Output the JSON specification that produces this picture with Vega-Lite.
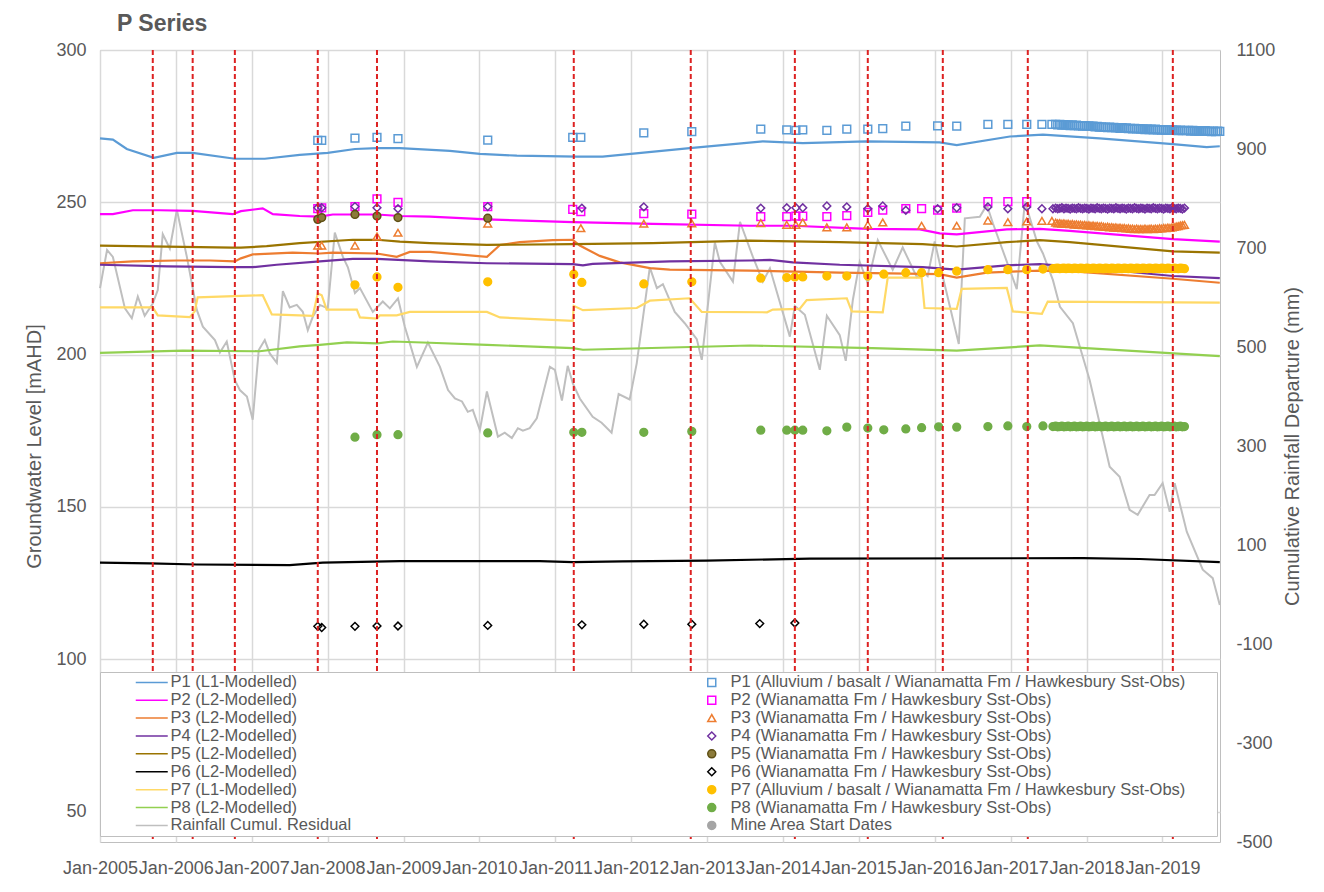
{
  "$schema": "https://vega.github.io/schema/vega-lite/v6.json",
  "width": 1120,
  "height": 792,
  "autosize": {"type": "none"},
  "padding": {"left": 100, "top": 50, "right": 104, "bottom": 50},
  "background": "white",
  "title": {"text": "P Series", "anchor": "start", "frame": "group", "fontSize": 23, "fontWeight": "bold", "color": "#595959", "dx": 17, "offset": 5, "font": "Liberation Sans"},
  "config": {
    "font": "Liberation Sans",
    "view": {"stroke": "#bfbfbf", "strokeWidth": 1},
    "axis": {"labelColor": "#595959", "titleColor": "#595959", "labelFontSize": 18, "titleFontSize": 20, "titleFontWeight": "normal", "ticks": false, "domain": false, "gridColor": "#d9d9d9", "gridWidth": 1.5, "labelFont": "Liberation Sans", "titleFont": "Liberation Sans"}
  },
  "datasets": {
    "model": [
      {"s":"M1","d":"2005-01-01","v":271.0},{"s":"M1","d":"2005-03-04","v":270.6},{"s":"M1","d":"2005-05-10","v":267.5},{"s":"M1","d":"2005-09-17","v":264.6},{"s":"M1","d":"2006-01-06","v":266.2},{"s":"M1","d":"2006-03-23","v":266.2},{"s":"M1","d":"2006-10-12","v":264.3},{"s":"M1","d":"2007-03-05","v":264.3},{"s":"M1","d":"2007-08-20","v":265.6},{"s":"M1","d":"2008-01-02","v":266.2},{"s":"M1","d":"2008-05-12","v":267.5},{"s":"M1","d":"2008-08-26","v":267.8},{"s":"M1","d":"2008-12-14","v":267.8},{"s":"M1","d":"2009-08-12","v":266.9},{"s":"M1","d":"2010-01-03","v":265.9},{"s":"M1","d":"2010-06-30","v":265.3},{"s":"M1","d":"2011-04-15","v":265.0},{"s":"M1","d":"2011-08-17","v":265.0},{"s":"M1","d":"2012-10-09","v":267.8},{"s":"M1","d":"2013-09-26","v":270.0},{"s":"M1","d":"2014-04-06","v":269.4},{"s":"M1","d":"2015-02-08","v":270.0},{"s":"M1","d":"2016-01-25","v":269.7},{"s":"M1","d":"2016-04-16","v":268.8},{"s":"M1","d":"2016-12-28","v":271.6},{"s":"M1","d":"2017-06-05","v":272.2},{"s":"M1","d":"2018-03-05","v":271.0},{"s":"M1","d":"2019-02-20","v":269.1},{"s":"M1","d":"2019-08-02","v":268.1},{"s":"M1","d":"2019-10-04","v":268.4},
      {"s":"M2","d":"2005-01-01","v":246.1},{"s":"M2","d":"2005-03-04","v":246.1},{"s":"M2","d":"2005-06-08","v":247.4},{"s":"M2","d":"2005-10-16","v":247.4},{"s":"M2","d":"2006-03-23","v":247.2},{"s":"M2","d":"2006-10-02","v":246.1},{"s":"M2","d":"2006-11-10","v":247.1},{"s":"M2","d":"2007-02-23","v":248.0},{"s":"M2","d":"2007-04-13","v":246.1},{"s":"M2","d":"2007-08-20","v":245.5},{"s":"M2","d":"2007-11-25","v":245.3},{"s":"M2","d":"2008-01-26","v":246.0},{"s":"M2","d":"2008-08-26","v":246.0},{"s":"M2","d":"2008-12-14","v":245.5},{"s":"M2","d":"2009-05-08","v":245.3},{"s":"M2","d":"2010-02-06","v":244.4},{"s":"M2","d":"2011-03-26","v":243.5},{"s":"M2","d":"2012-04-14","v":242.9},{"s":"M2","d":"2013-07-25","v":242.3},{"s":"M2","d":"2014-02-17","v":242.3},{"s":"M2","d":"2015-02-13","v":241.3},{"s":"M2","d":"2015-10-21","v":241.1},{"s":"M2","d":"2016-01-25","v":239.8},{"s":"M2","d":"2016-04-16","v":239.5},{"s":"M2","d":"2016-12-13","v":241.1},{"s":"M2","d":"2017-05-21","v":241.3},{"s":"M2","d":"2017-10-12","v":240.6},{"s":"M2","d":"2019-02-20","v":237.9},{"s":"M2","d":"2019-10-04","v":237.1},
      {"s":"M3","d":"2005-01-01","v":230.0},{"s":"M3","d":"2005-06-08","v":230.6},{"s":"M3","d":"2006-01-06","v":230.9},{"s":"M3","d":"2006-06-14","v":230.9},{"s":"M3","d":"2006-10-12","v":230.6},{"s":"M3","d":"2006-11-10","v":231.6},{"s":"M3","d":"2007-01-06","v":232.9},{"s":"M3","d":"2007-07-17","v":233.5},{"s":"M3","d":"2007-11-25","v":233.2},{"s":"M3","d":"2008-01-26","v":233.5},{"s":"M3","d":"2008-08-26","v":233.2},{"s":"M3","d":"2008-11-29","v":232.1},{"s":"M3","d":"2009-01-31","v":233.7},{"s":"M3","d":"2009-05-08","v":233.7},{"s":"M3","d":"2010-02-06","v":232.1},{"s":"M3","d":"2010-04-10","v":236.0},{"s":"M3","d":"2010-07-14","v":236.9},{"s":"M3","d":"2010-12-20","v":237.6},{"s":"M3","d":"2011-03-26","v":237.7},{"s":"M3","d":"2011-04-29","v":235.8},{"s":"M3","d":"2011-08-03","v":232.4},{"s":"M3","d":"2011-11-07","v":230.3},{"s":"M3","d":"2012-03-31","v":228.4},{"s":"M3","d":"2012-07-05","v":227.9},{"s":"M3","d":"2013-07-25","v":227.6},{"s":"M3","d":"2014-10-01","v":226.9},{"s":"M3","d":"2016-01-25","v":226.4},{"s":"M3","d":"2016-04-16","v":225.3},{"s":"M3","d":"2016-09-08","v":226.9},{"s":"M3","d":"2017-05-21","v":227.6},{"s":"M3","d":"2017-10-12","v":227.4},{"s":"M3","d":"2019-02-20","v":224.9},{"s":"M3","d":"2019-10-04","v":223.6},
      {"s":"M4","d":"2005-01-01","v":229.5},{"s":"M4","d":"2005-11-19","v":229.0},{"s":"M4","d":"2006-10-02","v":228.7},{"s":"M4","d":"2007-01-06","v":228.7},{"s":"M4","d":"2007-05-01","v":229.5},{"s":"M4","d":"2007-11-25","v":230.6},{"s":"M4","d":"2008-05-02","v":231.4},{"s":"M4","d":"2008-08-26","v":231.4},{"s":"M4","d":"2009-05-08","v":230.6},{"s":"M4","d":"2010-02-06","v":230.0},{"s":"M4","d":"2011-03-26","v":229.7},{"s":"M4","d":"2011-05-14","v":229.3},{"s":"M4","d":"2011-06-30","v":229.8},{"s":"M4","d":"2012-07-05","v":230.6},{"s":"M4","d":"2013-07-25","v":230.9},{"s":"M4","d":"2013-10-30","v":231.1},{"s":"M4","d":"2014-02-17","v":230.3},{"s":"M4","d":"2014-10-01","v":229.5},{"s":"M4","d":"2015-11-04","v":228.7},{"s":"M4","d":"2016-04-16","v":227.9},{"s":"M4","d":"2016-12-13","v":229.3},{"s":"M4","d":"2017-05-21","v":229.7},{"s":"M4","d":"2017-10-12","v":229.0},{"s":"M4","d":"2019-02-20","v":225.8},{"s":"M4","d":"2019-10-04","v":225.1},
      {"s":"M5","d":"2005-01-01","v":235.8},{"s":"M5","d":"2006-10-02","v":235.1},{"s":"M5","d":"2006-11-10","v":235.1},{"s":"M5","d":"2007-03-14","v":235.6},{"s":"M5","d":"2007-08-20","v":236.6},{"s":"M5","d":"2008-05-02","v":237.7},{"s":"M5","d":"2008-08-26","v":237.7},{"s":"M5","d":"2008-12-14","v":237.1},{"s":"M5","d":"2009-05-08","v":236.6},{"s":"M5","d":"2010-02-06","v":236.0},{"s":"M5","d":"2011-03-26","v":236.3},{"s":"M5","d":"2012-04-14","v":236.6},{"s":"M5","d":"2013-07-25","v":237.4},{"s":"M5","d":"2014-10-01","v":236.9},{"s":"M5","d":"2015-11-04","v":236.3},{"s":"M5","d":"2016-04-16","v":235.5},{"s":"M5","d":"2016-12-13","v":236.9},{"s":"M5","d":"2017-05-21","v":237.6},{"s":"M5","d":"2017-10-12","v":236.9},{"s":"M5","d":"2019-02-20","v":233.9},{"s":"M5","d":"2019-10-04","v":233.5},
      {"s":"M6","d":"2005-01-01","v":131.7},{"s":"M6","d":"2005-08-28","v":131.5},{"s":"M6","d":"2006-04-12","v":131.1},{"s":"M6","d":"2007-07-03","v":130.9},{"s":"M6","d":"2007-12-09","v":131.7},{"s":"M6","d":"2008-12-14","v":132.2},{"s":"M6","d":"2010-10-18","v":132.2},{"s":"M6","d":"2011-03-26","v":131.9},{"s":"M6","d":"2011-11-21","v":132.1},{"s":"M6","d":"2012-12-30","v":132.4},{"s":"M6","d":"2014-05-10","v":133.0},{"s":"M6","d":"2017-12-14","v":133.2},{"s":"M6","d":"2018-09-14","v":132.9},{"s":"M6","d":"2019-10-04","v":131.9},
      {"s":"M7","d":"2005-01-01","v":215.5},{"s":"M7","d":"2005-09-12","v":215.5},{"s":"M7","d":"2005-10-06","v":212.9},{"s":"M7","d":"2006-03-09","v":212.3},{"s":"M7","d":"2006-04-02","v":214.2},{"s":"M7","d":"2006-04-16","v":218.8},{"s":"M7","d":"2007-02-23","v":219.5},{"s":"M7","d":"2007-04-08","v":213.2},{"s":"M7","d":"2007-10-22","v":212.7},{"s":"M7","d":"2007-11-15","v":220.1},{"s":"M7","d":"2007-12-04","v":219.5},{"s":"M7","d":"2007-12-28","v":214.8},{"s":"M7","d":"2008-05-21","v":214.8},{"s":"M7","d":"2008-06-05","v":212.2},{"s":"M7","d":"2008-08-26","v":211.8},{"s":"M7","d":"2008-09-09","v":212.9},{"s":"M7","d":"2008-11-29","v":212.9},{"s":"M7","d":"2009-01-31","v":214.0},{"s":"M7","d":"2010-02-06","v":214.0},{"s":"M7","d":"2010-04-10","v":212.2},{"s":"M7","d":"2011-03-26","v":211.1},{"s":"M7","d":"2011-03-31","v":216.0},{"s":"M7","d":"2011-05-14","v":214.6},{"s":"M7","d":"2012-01-28","v":215.3},{"s":"M7","d":"2012-03-31","v":217.7},{"s":"M7","d":"2012-10-09","v":218.5},{"s":"M7","d":"2012-12-06","v":214.0},{"s":"M7","d":"2013-10-16","v":213.9},{"s":"M7","d":"2013-11-13","v":214.8},{"s":"M7","d":"2014-03-22","v":215.0},{"s":"M7","d":"2014-04-25","v":217.9},{"s":"M7","d":"2014-11-04","v":218.5},{"s":"M7","d":"2014-11-28","v":214.2},{"s":"M7","d":"2015-04-26","v":213.9},{"s":"M7","d":"2015-05-20","v":225.3},{"s":"M7","d":"2015-10-30","v":225.3},{"s":"M7","d":"2015-11-13","v":215.3},{"s":"M7","d":"2016-04-16","v":215.0},{"s":"M7","d":"2016-05-10","v":221.6},{"s":"M7","d":"2016-12-13","v":221.9},{"s":"M7","d":"2017-01-11","v":214.2},{"s":"M7","d":"2017-05-31","v":213.4},{"s":"M7","d":"2017-06-28","v":217.4},{"s":"M7","d":"2019-10-04","v":217.1},
      {"s":"M8","d":"2005-01-01","v":200.6},{"s":"M8","d":"2006-02-04","v":201.3},{"s":"M8","d":"2007-02-09","v":201.1},{"s":"M8","d":"2007-08-20","v":202.7},{"s":"M8","d":"2007-11-25","v":203.2},{"s":"M8","d":"2008-04-03","v":204.0},{"s":"M8","d":"2008-08-26","v":203.7},{"s":"M8","d":"2008-11-10","v":204.3},{"s":"M8","d":"2009-05-08","v":203.9},{"s":"M8","d":"2010-02-06","v":203.2},{"s":"M8","d":"2011-03-26","v":202.1},{"s":"M8","d":"2011-05-14","v":201.6},{"s":"M8","d":"2013-07-25","v":203.0},{"s":"M8","d":"2015-03-08","v":202.1},{"s":"M8","d":"2016-04-16","v":201.3},{"s":"M8","d":"2017-05-21","v":203.0},{"s":"M8","d":"2019-10-04","v":199.5}
    ],
    "rain": [
      {"s":"R","d":"2005-01-01","v":619},{"s":"R","d":"2005-02-04","v":696},{"s":"R","d":"2005-03-04","v":682},{"s":"R","d":"2005-05-01","v":578},{"s":"R","d":"2005-06-03","v":558},{"s":"R","d":"2005-07-02","v":602},{"s":"R","d":"2005-08-04","v":563},{"s":"R","d":"2005-09-12","v":588},{"s":"R","d":"2005-10-06","v":615},{"s":"R","d":"2005-10-30","v":728},{"s":"R","d":"2005-12-03","v":699},{"s":"R","d":"2006-01-06","v":777},{"s":"R","d":"2006-02-23","v":682},{"s":"R","d":"2006-04-12","v":575},{"s":"R","d":"2006-05-11","v":541},{"s":"R","d":"2006-07-08","v":514},{"s":"R","d":"2006-08-01","v":489},{"s":"R","d":"2006-09-03","v":511},{"s":"R","d":"2006-10-12","v":433},{"s":"R","d":"2006-11-05","v":413},{"s":"R","d":"2006-12-09","v":400},{"s":"R","d":"2007-01-06","v":353},{"s":"R","d":"2007-02-04","v":494},{"s":"R","d":"2007-03-05","v":514},{"s":"R","d":"2007-03-29","v":487},{"s":"R","d":"2007-05-02","v":468},{"s":"R","d":"2007-05-31","v":613},{"s":"R","d":"2007-07-03","v":580},{"s":"R","d":"2007-08-06","v":585},{"s":"R","d":"2007-09-04","v":571},{"s":"R","d":"2007-09-28","v":534},{"s":"R","d":"2007-10-22","v":561},{"s":"R","d":"2007-11-25","v":585},{"s":"R","d":"2008-01-02","v":578},{"s":"R","d":"2008-02-05","v":731},{"s":"R","d":"2008-03-15","v":682},{"s":"R","d":"2008-04-08","v":661},{"s":"R","d":"2008-05-12","v":609},{"s":"R","d":"2008-06-05","v":619},{"s":"R","d":"2008-08-06","v":571},{"s":"R","d":"2008-09-23","v":592},{"s":"R","d":"2008-10-27","v":578},{"s":"R","d":"2008-12-05","v":598},{"s":"R","d":"2009-01-07","v":541},{"s":"R","d":"2009-03-06","v":460},{"s":"R","d":"2009-04-28","v":509},{"s":"R","d":"2009-06-25","v":460},{"s":"R","d":"2009-08-03","v":413},{"s":"R","d":"2009-09-05","v":396},{"s":"R","d":"2009-10-09","v":390},{"s":"R","d":"2009-11-06","v":369},{"s":"R","d":"2009-11-30","v":373},{"s":"R","d":"2010-01-03","v":332},{"s":"R","d":"2010-02-06","v":410},{"s":"R","d":"2010-03-31","v":319},{"s":"R","d":"2010-05-03","v":327},{"s":"R","d":"2010-06-06","v":316},{"s":"R","d":"2010-07-05","v":336},{"s":"R","d":"2010-07-29","v":331},{"s":"R","d":"2010-08-31","v":336},{"s":"R","d":"2010-10-04","v":356},{"s":"R","d":"2010-12-06","v":460},{"s":"R","d":"2010-12-30","v":454},{"s":"R","d":"2011-02-02","v":392},{"s":"R","d":"2011-03-02","v":462},{"s":"R","d":"2011-03-26","v":427},{"s":"R","d":"2011-04-29","v":396},{"s":"R","d":"2011-06-30","v":359},{"s":"R","d":"2011-08-12","v":347},{"s":"R","d":"2011-09-29","v":327},{"s":"R","d":"2011-11-02","v":405},{"s":"R","d":"2011-12-25","v":394},{"s":"R","d":"2012-01-28","v":467},{"s":"R","d":"2012-03-31","v":661},{"s":"R","d":"2012-05-04","v":619},{"s":"R","d":"2012-06-02","v":627},{"s":"R","d":"2012-07-29","v":571},{"s":"R","d":"2012-09-15","v":548},{"s":"R","d":"2012-11-12","v":516},{"s":"R","d":"2012-12-06","v":474},{"s":"R","d":"2013-02-07","v":711},{"s":"R","d":"2013-03-03","v":672},{"s":"R","d":"2013-05-05","v":632},{"s":"R","d":"2013-06-08","v":753},{"s":"R","d":"2013-08-09","v":682},{"s":"R","d":"2013-09-26","v":632},{"s":"R","d":"2013-10-30","v":659},{"s":"R","d":"2014-02-03","v":521},{"s":"R","d":"2014-02-27","v":583},{"s":"R","d":"2014-04-16","v":565},{"s":"R","d":"2014-06-27","v":454},{"s":"R","d":"2014-07-31","v":563},{"s":"R","d":"2014-10-01","v":524},{"s":"R","d":"2014-10-30","v":472},{"s":"R","d":"2014-12-03","v":595},{"s":"R","d":"2015-01-05","v":672},{"s":"R","d":"2015-02-13","v":629},{"s":"R","d":"2015-04-02","v":716},{"s":"R","d":"2015-06-13","v":656},{"s":"R","d":"2015-07-31","v":701},{"s":"R","d":"2015-10-07","v":641},{"s":"R","d":"2015-11-04","v":652},{"s":"R","d":"2015-11-28","v":643},{"s":"R","d":"2016-01-01","v":713},{"s":"R","d":"2016-02-09","v":642},{"s":"R","d":"2016-04-26","v":506},{"s":"R","d":"2016-05-25","v":760},{"s":"R","d":"2016-08-05","v":763},{"s":"R","d":"2016-09-08","v":787},{"s":"R","d":"2016-10-07","v":750},{"s":"R","d":"2017-01-30","v":617},{"s":"R","d":"2017-03-10","v":794},{"s":"R","d":"2017-05-07","v":713},{"s":"R","d":"2017-06-05","v":689},{"s":"R","d":"2017-07-23","v":635},{"s":"R","d":"2017-08-26","v":581},{"s":"R","d":"2017-10-27","v":548},{"s":"R","d":"2018-01-16","v":433},{"s":"R","d":"2018-04-22","v":258},{"s":"R","d":"2018-06-09","v":238},{"s":"R","d":"2018-07-27","v":171},{"s":"R","d":"2018-09-04","v":161},{"s":"R","d":"2018-10-31","v":201},{"s":"R","d":"2018-11-24","v":201},{"s":"R","d":"2019-01-02","v":225},{"s":"R","d":"2019-02-05","v":167},{"s":"R","d":"2019-03-01","v":225},{"s":"R","d":"2019-04-28","v":127},{"s":"R","d":"2019-07-14","v":50},{"s":"R","d":"2019-08-31","v":33},{"s":"R","d":"2019-10-04","v":-21}
    ],
    "obs": [
      {"s":"O1","d":"2007-11-15","v":270.3},{"s":"O1","d":"2007-12-04","v":270.3},{"s":"O1","d":"2008-05-12","v":271.1},{"s":"O1","d":"2008-08-26","v":271.3},{"s":"O1","d":"2008-12-05","v":270.9},{"s":"O1","d":"2010-02-10","v":270.4},{"s":"O1","d":"2011-03-26","v":271.3},{"s":"O1","d":"2011-05-04","v":271.3},{"s":"O1","d":"2012-03-02","v":272.8},{"s":"O1","d":"2012-10-19","v":273.2},{"s":"O1","d":"2013-09-16","v":274.0},{"s":"O1","d":"2014-01-19","v":273.8},{"s":"O1","d":"2014-03-04","v":273.6},{"s":"O1","d":"2014-04-06","v":273.8},{"s":"O1","d":"2014-07-31","v":273.6},{"s":"O1","d":"2014-11-04","v":274.0},{"s":"O1","d":"2015-02-13","v":274.0},{"s":"O1","d":"2015-04-26","v":274.2},{"s":"O1","d":"2015-08-15","v":275.0},{"s":"O1","d":"2016-01-15","v":275.1},{"s":"O1","d":"2016-04-16","v":275.0},{"s":"O1","d":"2016-09-13","v":275.6},{"s":"O1","d":"2016-12-18","v":275.6},{"s":"O1","d":"2017-03-19","v":275.6},{"s":"O1","d":"2017-05-31","v":275.6},{"s":"O1","d":"2017-07-18","v":275.6},
      {"s":"O2","d":"2007-11-15","v":247.9},{"s":"O2","d":"2007-12-04","v":248.2},{"s":"O2","d":"2008-05-12","v":248.6},{"s":"O2","d":"2008-08-26","v":251.1},{"s":"O2","d":"2008-12-05","v":250.0},{"s":"O2","d":"2010-02-10","v":248.6},{"s":"O2","d":"2011-03-26","v":247.7},{"s":"O2","d":"2011-05-04","v":246.9},{"s":"O2","d":"2012-03-02","v":246.3},{"s":"O2","d":"2012-10-19","v":246.1},{"s":"O2","d":"2013-09-16","v":245.3},{"s":"O2","d":"2014-01-19","v":245.3},{"s":"O2","d":"2014-03-04","v":245.5},{"s":"O2","d":"2014-04-06","v":245.5},{"s":"O2","d":"2014-07-31","v":245.3},{"s":"O2","d":"2014-11-04","v":245.6},{"s":"O2","d":"2015-02-13","v":246.7},{"s":"O2","d":"2015-04-26","v":247.4},{"s":"O2","d":"2015-08-15","v":247.9},{"s":"O2","d":"2015-10-30","v":247.9},{"s":"O2","d":"2016-01-15","v":247.4},{"s":"O2","d":"2016-04-16","v":248.1},{"s":"O2","d":"2016-09-13","v":250.2},{"s":"O2","d":"2016-12-18","v":250.2},{"s":"O2","d":"2017-03-19","v":250.2},
      {"s":"O3","d":"2007-11-15","v":235.8},{"s":"O3","d":"2007-12-04","v":235.8},{"s":"O3","d":"2008-05-12","v":235.8},{"s":"O3","d":"2008-08-26","v":238.8},{"s":"O3","d":"2008-12-05","v":240.0},{"s":"O3","d":"2010-02-10","v":243.0},{"s":"O3","d":"2011-05-04","v":241.5},{"s":"O3","d":"2012-03-02","v":243.0},{"s":"O3","d":"2012-10-19","v":243.1},{"s":"O3","d":"2013-09-16","v":243.2},{"s":"O3","d":"2014-01-19","v":242.6},{"s":"O3","d":"2014-03-04","v":242.6},{"s":"O3","d":"2014-04-06","v":243.4},{"s":"O3","d":"2014-07-31","v":241.8},{"s":"O3","d":"2014-11-04","v":241.8},{"s":"O3","d":"2015-02-13","v":242.6},{"s":"O3","d":"2015-04-26","v":243.4},{"s":"O3","d":"2015-10-30","v":242.3},{"s":"O3","d":"2016-04-16","v":242.3},{"s":"O3","d":"2016-09-13","v":244.0},{"s":"O3","d":"2016-12-18","v":243.5},{"s":"O3","d":"2017-03-19","v":243.7},{"s":"O3","d":"2017-05-31","v":243.9},{"s":"O3","d":"2017-07-18","v":243.9},
      {"s":"O4","d":"2007-11-15","v":248.2},{"s":"O4","d":"2007-12-04","v":248.2},{"s":"O4","d":"2008-05-12","v":248.6},{"s":"O4","d":"2008-08-26","v":248.2},{"s":"O4","d":"2008-12-05","v":247.9},{"s":"O4","d":"2010-02-10","v":248.6},{"s":"O4","d":"2011-05-09","v":248.1},{"s":"O4","d":"2012-03-02","v":248.5},{"s":"O4","d":"2013-09-16","v":248.1},{"s":"O4","d":"2014-01-19","v":248.2},{"s":"O4","d":"2014-03-04","v":248.2},{"s":"O4","d":"2014-04-06","v":248.2},{"s":"O4","d":"2014-07-31","v":248.8},{"s":"O4","d":"2014-11-04","v":248.5},{"s":"O4","d":"2015-02-13","v":247.9},{"s":"O4","d":"2015-04-26","v":248.8},{"s":"O4","d":"2015-08-15","v":247.4},{"s":"O4","d":"2016-01-15","v":247.9},{"s":"O4","d":"2016-04-16","v":248.2},{"s":"O4","d":"2016-09-13","v":248.5},{"s":"O4","d":"2016-12-18","v":247.9},{"s":"O4","d":"2017-03-19","v":248.5},{"s":"O4","d":"2017-05-31","v":247.9},{"s":"O4","d":"2017-07-23","v":247.9},
      {"s":"O5","d":"2007-11-15","v":244.4},{"s":"O5","d":"2007-12-04","v":245.0},{"s":"O5","d":"2008-05-12","v":246.0},{"s":"O5","d":"2008-08-26","v":245.5},{"s":"O5","d":"2008-12-05","v":245.0},{"s":"O5","d":"2010-02-10","v":244.8},
      {"s":"O6","d":"2007-11-15","v":110.8},{"s":"O6","d":"2007-12-04","v":110.4},{"s":"O6","d":"2008-05-12","v":110.8},{"s":"O6","d":"2008-08-26","v":110.9},{"s":"O6","d":"2008-12-05","v":110.9},{"s":"O6","d":"2010-02-10","v":111.1},{"s":"O6","d":"2011-05-09","v":111.3},{"s":"O6","d":"2012-03-02","v":111.5},{"s":"O6","d":"2012-10-19","v":111.5},{"s":"O6","d":"2013-09-11","v":111.7},{"s":"O6","d":"2014-02-27","v":111.9},
      {"s":"O7","d":"2008-05-12","v":222.9},{"s":"O7","d":"2008-08-26","v":225.5},{"s":"O7","d":"2008-12-05","v":222.1},{"s":"O7","d":"2010-02-10","v":223.9},{"s":"O7","d":"2011-03-31","v":226.4},{"s":"O7","d":"2011-05-09","v":223.7},{"s":"O7","d":"2012-03-02","v":223.2},{"s":"O7","d":"2012-10-19","v":223.9},{"s":"O7","d":"2013-09-16","v":225.1},{"s":"O7","d":"2014-01-19","v":225.3},{"s":"O7","d":"2014-02-27","v":225.5},{"s":"O7","d":"2014-04-06","v":225.5},{"s":"O7","d":"2014-07-31","v":225.8},{"s":"O7","d":"2014-11-04","v":225.8},{"s":"O7","d":"2015-02-13","v":225.8},{"s":"O7","d":"2015-05-01","v":226.4},{"s":"O7","d":"2015-08-15","v":226.9},{"s":"O7","d":"2015-10-30","v":226.9},{"s":"O7","d":"2016-01-20","v":226.9},{"s":"O7","d":"2016-04-16","v":227.4},{"s":"O7","d":"2016-09-13","v":227.9},{"s":"O7","d":"2016-12-18","v":227.9},{"s":"O7","d":"2017-03-19","v":227.9},{"s":"O7","d":"2017-06-05","v":228.1},{"s":"O7","d":"2017-07-23","v":228.2},
      {"s":"O8","d":"2008-05-12","v":172.9},{"s":"O8","d":"2008-08-26","v":173.7},{"s":"O8","d":"2008-12-05","v":173.7},{"s":"O8","d":"2010-02-10","v":174.3},{"s":"O8","d":"2011-03-31","v":174.5},{"s":"O8","d":"2011-05-09","v":174.5},{"s":"O8","d":"2012-03-02","v":174.5},{"s":"O8","d":"2012-10-19","v":174.8},{"s":"O8","d":"2013-09-16","v":175.2},{"s":"O8","d":"2014-01-19","v":175.2},{"s":"O8","d":"2014-02-27","v":175.2},{"s":"O8","d":"2014-04-06","v":175.2},{"s":"O8","d":"2014-07-31","v":175.0},{"s":"O8","d":"2014-11-04","v":176.2},{"s":"O8","d":"2015-02-13","v":175.9},{"s":"O8","d":"2015-05-01","v":175.3},{"s":"O8","d":"2015-08-15","v":175.6},{"s":"O8","d":"2015-10-30","v":176.0},{"s":"O8","d":"2016-01-20","v":176.3},{"s":"O8","d":"2016-04-16","v":176.2},{"s":"O8","d":"2016-09-13","v":176.4},{"s":"O8","d":"2016-12-18","v":176.6},{"s":"O8","d":"2017-03-19","v":176.4},{"s":"O8","d":"2017-06-05","v":176.6},{"s":"O8","d":"2017-07-23","v":176.4}
    ],
    "band": [
      {"d":"2017-08-05","O1":275.6,"O3":243.3,"O4":248.1,"O7":228.3,"O8":176.5},
      {"d":"2017-08-15","O1":275.4,"O3":243.1,"O4":247.9,"O7":228.4,"O8":176.3},
      {"d":"2017-08-25","O1":275.6,"O3":243.2,"O4":248.0,"O7":228.2,"O8":176.4},
      {"d":"2017-09-04","O1":275.3,"O3":243.0,"O4":248.2,"O7":228.3,"O8":176.5},
      {"d":"2017-09-14","O1":275.5,"O3":243.1,"O4":247.9,"O7":228.4,"O8":176.3},
      {"d":"2017-09-24","O1":275.3,"O3":242.9,"O4":248.1,"O7":228.2,"O8":176.4},
      {"d":"2017-10-04","O1":275.4,"O3":243.0,"O4":248.0,"O7":228.4,"O8":176.5},
      {"d":"2017-10-14","O1":275.2,"O3":242.8,"O4":247.8,"O7":228.3,"O8":176.3},
      {"d":"2017-10-24","O1":275.4,"O3":242.9,"O4":248.1,"O7":228.2,"O8":176.4},
      {"d":"2017-11-03","O1":275.2,"O3":242.7,"O4":248.0,"O7":228.4,"O8":176.5},
      {"d":"2017-11-13","O1":275.3,"O3":242.8,"O4":247.9,"O7":228.3,"O8":176.3},
      {"d":"2017-11-23","O1":275.1,"O3":242.6,"O4":248.2,"O7":228.2,"O8":176.4},
      {"d":"2017-12-03","O1":275.2,"O3":242.7,"O4":248.0,"O7":228.4,"O8":176.5},
      {"d":"2017-12-13","O1":275.0,"O3":242.5,"O4":247.9,"O7":228.3,"O8":176.3},
      {"d":"2017-12-23","O1":275.2,"O3":242.6,"O4":248.1,"O7":228.2,"O8":176.4},
      {"d":"2018-01-02","O1":275.0,"O3":242.4,"O4":248.0,"O7":228.4,"O8":176.5},
      {"d":"2018-01-12","O1":275.1,"O3":242.5,"O4":247.8,"O7":228.3,"O8":176.3},
      {"d":"2018-01-22","O1":274.9,"O3":242.3,"O4":248.1,"O7":228.2,"O8":176.4},
      {"d":"2018-02-01","O1":275.0,"O3":242.4,"O4":248.0,"O7":228.4,"O8":176.5},
      {"d":"2018-02-11","O1":274.8,"O3":242.2,"O4":247.9,"O7":228.3,"O8":176.3},
      {"d":"2018-02-21","O1":274.9,"O3":242.3,"O4":248.2,"O7":228.2,"O8":176.4},
      {"d":"2018-03-03","O1":274.7,"O3":242.1,"O4":248.0,"O7":228.4,"O8":176.5},
      {"d":"2018-03-13","O1":274.8,"O3":242.2,"O4":247.9,"O7":228.3,"O8":176.3},
      {"d":"2018-03-23","O1":274.6,"O3":242.0,"O4":248.1,"O7":228.2,"O8":176.4},
      {"d":"2018-04-02","O1":274.7,"O3":241.9,"O4":248.0,"O7":228.4,"O8":176.5},
      {"d":"2018-04-12","O1":274.5,"O3":242.0,"O4":247.8,"O7":228.3,"O8":176.3},
      {"d":"2018-04-22","O1":274.7,"O3":241.8,"O4":248.1,"O7":228.2,"O8":176.4},
      {"d":"2018-05-02","O1":274.5,"O3":241.9,"O4":248.0,"O7":228.4,"O8":176.5},
      {"d":"2018-05-12","O1":274.6,"O3":241.7,"O4":247.9,"O7":228.3,"O8":176.3},
      {"d":"2018-05-22","O1":274.4,"O3":241.8,"O4":248.2,"O7":228.2,"O8":176.4},
      {"d":"2018-06-01","O1":274.5,"O3":241.6,"O4":248.0,"O7":228.4,"O8":176.5},
      {"d":"2018-06-11","O1":274.3,"O3":241.7,"O4":247.9,"O7":228.3,"O8":176.3},
      {"d":"2018-06-21","O1":274.5,"O3":241.5,"O4":248.1,"O7":228.2,"O8":176.4},
      {"d":"2018-07-01","O1":274.3,"O3":241.6,"O4":248.0,"O7":228.4,"O8":176.5},
      {"d":"2018-07-11","O1":274.4,"O3":241.4,"O4":247.8,"O7":228.3,"O8":176.3},
      {"d":"2018-07-21","O1":274.2,"O3":241.5,"O4":248.1,"O7":228.2,"O8":176.4},
      {"d":"2018-07-31","O1":274.3,"O3":241.3,"O4":248.0,"O7":228.4,"O8":176.5},
      {"d":"2018-08-10","O1":274.1,"O3":241.4,"O4":247.9,"O7":228.3,"O8":176.3},
      {"d":"2018-08-20","O1":274.3,"O3":241.2,"O4":248.2,"O7":228.2,"O8":176.4},
      {"d":"2018-08-30","O1":274.1,"O3":241.4,"O4":248.0,"O7":228.4,"O8":176.5},
      {"d":"2018-09-09","O1":274.2,"O3":241.2,"O4":247.9,"O7":228.3,"O8":176.3},
      {"d":"2018-09-19","O1":274.0,"O3":241.3,"O4":248.1,"O7":228.2,"O8":176.4},
      {"d":"2018-09-29","O1":274.1,"O3":241.2,"O4":248.0,"O7":228.4,"O8":176.5},
      {"d":"2018-10-09","O1":273.9,"O3":241.4,"O4":247.8,"O7":228.3,"O8":176.3},
      {"d":"2018-10-19","O1":274.1,"O3":241.2,"O4":248.1,"O7":228.2,"O8":176.4},
      {"d":"2018-10-29","O1":273.9,"O3":241.3,"O4":248.0,"O7":228.4,"O8":176.5},
      {"d":"2018-11-08","O1":274.0,"O3":241.4,"O4":247.9,"O7":228.3,"O8":176.3},
      {"d":"2018-11-18","O1":273.8,"O3":241.2,"O4":248.2,"O7":228.2,"O8":176.4},
      {"d":"2018-11-28","O1":274.0,"O3":241.4,"O4":248.0,"O7":228.4,"O8":176.5},
      {"d":"2018-12-08","O1":273.8,"O3":241.3,"O4":247.9,"O7":228.3,"O8":176.3},
      {"d":"2018-12-18","O1":273.9,"O3":241.5,"O4":248.1,"O7":228.2,"O8":176.4},
      {"d":"2018-12-28","O1":273.7,"O3":241.4,"O4":248.0,"O7":228.4,"O8":176.5},
      {"d":"2019-01-07","O1":273.9,"O3":241.6,"O4":247.8,"O7":228.3,"O8":176.3},
      {"d":"2019-01-17","O1":273.7,"O3":241.5,"O4":248.1,"O7":228.2,"O8":176.4},
      {"d":"2019-01-27","O1":273.8,"O3":241.7,"O4":248.0,"O7":228.4,"O8":176.5},
      {"d":"2019-02-06","O1":273.6,"O3":241.6,"O4":247.9,"O7":228.3,"O8":176.3},
      {"d":"2019-02-16","O1":273.8,"O3":241.8,"O4":248.2,"O7":228.2,"O8":176.4},
      {"d":"2019-02-26","O1":273.6,"O3":241.9,"O4":248.0,"O7":228.4,"O8":176.5},
      {"d":"2019-03-08","O1":273.7,"O3":242.1,"O4":247.9,"O7":228.3,"O8":176.3},
      {"d":"2019-03-18","O1":273.5,"O3":242.2,"O4":248.1,"O7":228.2,"O8":176.4},
      {"d":"2019-03-28","O1":273.7,"O3":242.4,"O4":248.0,"O7":228.4,"O8":176.5},
      {"d":"2019-04-07","O1":273.5,"O3":242.5,"O4":247.8,"O7":228.3,"O8":176.3},
      {"d":"2019-04-17","O1":273.6,"O3":242.6,"O4":248.1,"O7":228.2,"O8":176.4},
      {"d":"2019-04-27","O1":273.5},{"d":"2019-05-07","O1":273.6},{"d":"2019-05-17","O1":273.4},{"d":"2019-05-27","O1":273.6},{"d":"2019-06-06","O1":273.4},{"d":"2019-06-16","O1":273.5},{"d":"2019-06-26","O1":273.3},{"d":"2019-07-06","O1":273.5},{"d":"2019-07-16","O1":273.3},{"d":"2019-07-26","O1":273.5},{"d":"2019-08-05","O1":273.3},{"d":"2019-08-15","O1":273.4},{"d":"2019-08-25","O1":273.2},{"d":"2019-09-04","O1":273.4},{"d":"2019-09-14","O1":273.2},{"d":"2019-09-24","O1":273.4},{"d":"2019-10-04","O1":273.3}
    ],
    "mine": [
      {"d":"2005-09-12"},{"d":"2006-03-23"},{"d":"2006-10-12"},{"d":"2007-11-15"},{"d":"2008-08-26"},{"d":"2011-03-31"},{"d":"2012-10-14"},{"d":"2014-02-27"},{"d":"2015-02-13"},{"d":"2016-02-09"},{"d":"2017-03-24"},{"d":"2019-02-20"}
    ]
  },
  "layer": [
    {
      "data": {"name": "rain"},
      "mark": {"type": "line", "strokeWidth": 2},
      "encoding": {
        "x": {"field": "d", "type": "temporal", "scale": {"type": "utc", "domain": [{"year": 2005, "month": 1, "date": 1, "utc": true}, {"year": 2019, "month": 10, "date": 5, "utc": true}]}, "axis": {"title": null, "format": "%b-%Y", "tickCount": {"interval": "year", "step": 1}, "labelFlush": false, "labelOverlap": false, "labelBound": false, "grid": true, "labelPadding": 17}},
        "y": {"field": "v", "type": "quantitative", "scale": {"domain": [-500, 1100]}, "axis": {"orient": "right", "title": "Cumulative Rainfall Departure (mm)", "labelExpr": "'' + datum.value", "values": [-500, -300, -100, 100, 300, 500, 700, 900, 1100], "grid": false, "labelPadding": 16, "titleAngle": 270, "titleX": 72, "titleY": 396, "titleAlign": "center", "titleBaseline": "middle"}},
        "stroke": {"field": "s", "type": "nominal", "scale": {"domain": ["M1","M2","M3","M4","M5","M6","M7","M8","R","O1","O2","O3","O4","O5","O6","O7","O8","MA"], "range": ["#5b9bd5","#ff00ff","#ed7d31","#7030a0","#9a7400","#000000","#ffd966","#92d050","#bfbfbf","#5b9bd5","#ff00ff","#ed7d31","#7030a0","#5e4f14","#000000","#ffc000","#70ad47","#a5a5a5"]}}
      }
    },
    {
      "layer": [
        {
          "data": {"name": "model"},
          "mark": {"type": "line", "strokeWidth": 2.2},
          "encoding": {
            "x": {"field": "d", "type": "temporal"},
            "y": {"field": "v", "type": "quantitative", "scale": {"domain": [50, 300]}, "axis": {"orient": "left", "title": "Groundwater Level [mAHD]", "values": [50, 100, 150, 200, 250, 300], "grid": true, "labelPadding": 14, "titleAngle": 270, "titleX": -66, "titleY": 396, "titleAlign": "center", "titleBaseline": "middle"}},
            "stroke": {"field": "s", "type": "nominal", "scale": {"domain": ["M1","M2","M3","M4","M5","M6","M7","M8","R","O1","O2","O3","O4","O5","O6","O7","O8","MA"], "range": ["#5b9bd5","#ff00ff","#ed7d31","#7030a0","#9a7400","#000000","#ffd966","#92d050","#bfbfbf","#5b9bd5","#ff00ff","#ed7d31","#7030a0","#5e4f14","#000000","#ffc000","#70ad47","#a5a5a5"]}}
          }
        },
        {
          "data": {"name": "obs"},
          "mark": {"type": "point", "strokeWidth": 1.5, "size": 60, "opacity": 1},
          "encoding": {
            "x": {"field": "d", "type": "temporal"},
            "y": {"field": "v", "type": "quantitative"},
            "stroke": {"field": "s", "type": "nominal", "scale": {"domain": ["M1","M2","M3","M4","M5","M6","M7","M8","R","O1","O2","O3","O4","O5","O6","O7","O8","MA"], "range": ["#5b9bd5","#ff00ff","#ed7d31","#7030a0","#9a7400","#000000","#ffd966","#92d050","#bfbfbf","#5b9bd5","#ff00ff","#ed7d31","#7030a0","#5e4f14","#000000","#ffc000","#70ad47","#a5a5a5"]}},
            "fill": {"field": "s", "type": "nominal", "scale": {"domain": ["M1","M2","M3","M4","M5","M6","M7","M8","R","O1","O2","O3","O4","O5","O6","O7","O8","MA"], "range": ["transparent","transparent","transparent","transparent","transparent","transparent","transparent","transparent","transparent","transparent","transparent","transparent","transparent","#8c7b3a","transparent","#ffc000","#70ad47","#a5a5a5"]}},
            "shape": {"field": "s", "type": "nominal", "scale": {"domain": ["M1","M2","M3","M4","M5","M6","M7","M8","R","O1","O2","O3","O4","O5","O6","O7","O8","MA"], "range": ["M-4,0H4","M-4,0H4","M-4,0H4","M-4,0H4","M-4,0H4","M-4,0H4","M-4,0H4","M-4,0H4","M-4,0H4","square","square","triangle-up","diamond","circle","diamond","circle","circle","circle"]},
              "legend": {
                "orient": "none", "legendX": 0, "legendY": 622, "direction": "vertical", "columns": 2, "columnPadding": 310, "rowPadding": 0.9,
                "title": "\u00a0", "titleOrient": "right", "titlePadding": 30, "titleFontSize": 10,
                "fillColor": "white", "strokeColor": "#bfbfbf", "padding": 2,
                "symbolSize": 64, "symbolOffset": 41.5, "labelOffset": 10.5, "symbolStrokeWidth": 1.5,
                "labelFontSize": 16.5, "labelColor": "#595959", "labelFont": "Liberation Sans", "labelLimit": 800,
                "labelExpr": "datum.value=='M1'?'P1 (L1-Modelled)':datum.value=='M2'?'P2 (L2-Modelled)':datum.value=='M3'?'P3 (L2-Modelled)':datum.value=='M4'?'P4 (L2-Modelled)':datum.value=='M5'?'P5 (L2-Modelled)':datum.value=='M6'?'P6 (L2-Modelled)':datum.value=='M7'?'P7 (L1-Modelled)':datum.value=='M8'?'P8 (L2-Modelled)':datum.value=='R'?'Rainfall Cumul. Residual':datum.value=='O1'?'P1 (Alluvium / basalt / Wianamatta Fm / Hawkesbury Sst-Obs)':datum.value=='O2'?'P2 (Wianamatta Fm / Hawkesbury Sst-Obs)':datum.value=='O3'?'P3 (Wianamatta Fm / Hawkesbury Sst-Obs)':datum.value=='O4'?'P4 (Wianamatta Fm / Hawkesbury Sst-Obs)':datum.value=='O5'?'P5 (Wianamatta Fm / Hawkesbury Sst-Obs)':datum.value=='O6'?'P6 (Wianamatta Fm / Hawkesbury Sst-Obs)':datum.value=='O7'?'P7 (Alluvium / basalt / Wianamatta Fm / Hawkesbury Sst-Obs)':datum.value=='O8'?'P8 (Wianamatta Fm / Hawkesbury Sst-Obs)':'Mine Area Start Dates'",
                "encode": {"symbols": {"update": {"strokeWidth": {"signal": "indexof(['M1','M2','M3','M4','M5','M6','M7','M8','R'], datum.value) >= 0 ? 2.5 : 1.5"}}}}
              }
            }
          }
        },
        {
          "data": {"name": "band"},
          "transform": [{"fold": ["O1", "O3", "O4", "O7", "O8"], "as": ["s", "v"]}],
          "mark": {"type": "point", "strokeWidth": 1.5, "size": 60, "opacity": 1},
          "encoding": {
            "x": {"field": "d", "type": "temporal"},
            "y": {"field": "v", "type": "quantitative"},
            "stroke": {"field": "s", "type": "nominal", "scale": {"domain": ["M1","M2","M3","M4","M5","M6","M7","M8","R","O1","O2","O3","O4","O5","O6","O7","O8","MA"], "range": ["#5b9bd5","#ff00ff","#ed7d31","#7030a0","#9a7400","#000000","#ffd966","#92d050","#bfbfbf","#5b9bd5","#ff00ff","#ed7d31","#7030a0","#5e4f14","#000000","#ffc000","#70ad47","#a5a5a5"]}},
            "fill": {"field": "s", "type": "nominal", "scale": {"domain": ["M1","M2","M3","M4","M5","M6","M7","M8","R","O1","O2","O3","O4","O5","O6","O7","O8","MA"], "range": ["transparent","transparent","transparent","transparent","transparent","transparent","transparent","transparent","transparent","transparent","transparent","transparent","transparent","#8c7b3a","transparent","#ffc000","#70ad47","#a5a5a5"]}},
            "shape": {"field": "s", "type": "nominal", "scale": {"domain": ["M1","M2","M3","M4","M5","M6","M7","M8","R","O1","O2","O3","O4","O5","O6","O7","O8","MA"], "range": ["M-4,0H4","M-4,0H4","M-4,0H4","M-4,0H4","M-4,0H4","M-4,0H4","M-4,0H4","M-4,0H4","M-4,0H4","square","square","triangle-up","diamond","circle","diamond","circle","circle","circle"]}}
          }
        },
        {
          "data": {"name": "mine"},
          "mark": {"type": "rule", "color": "#dd2222", "strokeWidth": 2, "strokeDash": [5, 3]},
          "encoding": {"x": {"field": "d", "type": "temporal"}}
        }
      ]
    }
  ],
  "resolve": {"scale": {"y": "independent"}}
}
